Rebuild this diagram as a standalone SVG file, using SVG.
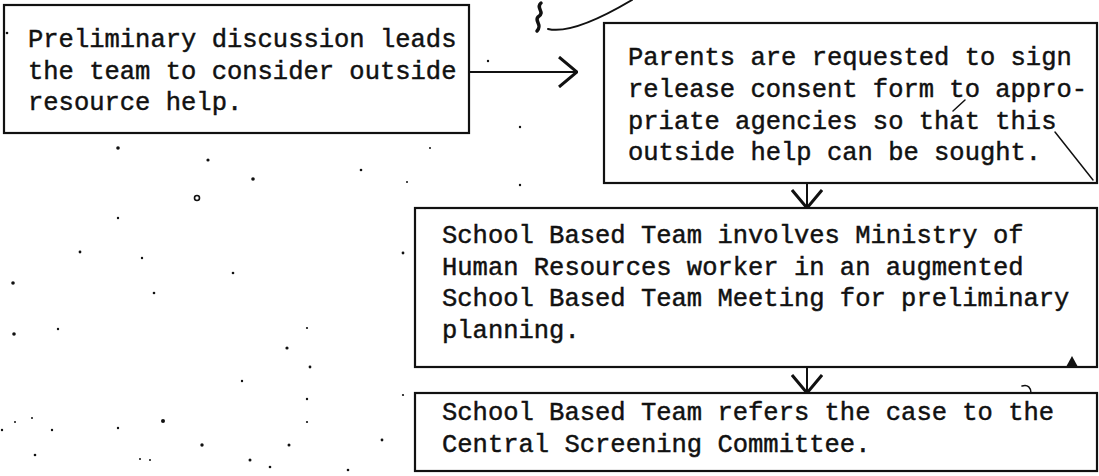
<svg xmlns="http://www.w3.org/2000/svg" width="1099" height="476" viewBox="0 0 1099 476">
  <style>
    .box { fill: #ffffff; stroke: #111111; stroke-width: 2.2; }
    .txt { font-family: "Liberation Mono", "Courier New", monospace; font-size: 25.5px; fill: #111111; stroke: #111111; stroke-width: 0.45; }
    .link { fill: none; stroke: #111111; stroke-width: 2; }
    .mark { fill: none; stroke: #111111; stroke-linecap: round; }
    .speck { fill: #111111; }
  </style>
  <defs>
    <marker id="chev" viewBox="0 0 20 32" refX="19" refY="16" markerWidth="20" markerHeight="32" markerUnits="userSpaceOnUse" orient="auto">
      <path d="M1,1 L19,16 L1,31" fill="none" stroke="#111111" stroke-width="3"/>
    </marker>
  </defs>
  <rect width="1099" height="476" fill="#ffffff"/>

  <!-- flow step 1 -->
  <g id="step-discussion">
    <rect class="box" x="4" y="5" width="465" height="128"/>
    <text class="txt" x="28" y="47">Preliminary discussion leads</text>
    <text class="txt" x="28" y="78.5">the team to consider outside</text>
    <text class="txt" x="28" y="110">resource help.</text>
  </g>

  <!-- flow step 2 -->
  <g id="step-consent">
    <rect class="box" x="604" y="23" width="493" height="160"/>
    <text class="txt" x="628" y="65">Parents are requested to sign</text>
    <text class="txt" x="628" y="97">release consent form to appro-</text>
    <text class="txt" x="628" y="128.5">priate agencies so that this</text>
    <text class="txt" x="628" y="160">outside help can be sought.</text>
  </g>

  <!-- flow step 3 -->
  <g id="step-augmented-meeting">
    <rect class="box" x="415" y="208" width="682" height="159"/>
    <text class="txt" x="442" y="243">School Based Team involves Ministry of</text>
    <text class="txt" x="442" y="274.5">Human Resources worker in an augmented</text>
    <text class="txt" x="442" y="306">School Based Team Meeting for preliminary</text>
    <text class="txt" x="442" y="337.5">planning.</text>
  </g>

  <!-- flow step 4 -->
  <g id="step-referral">
    <rect class="box" x="415" y="393" width="682" height="78"/>
    <text class="txt" x="442" y="420">School Based Team refers the case to the</text>
    <text class="txt" x="442" y="452">Central Screening Committee.</text>
  </g>

  <!-- connectors -->
  <g id="connectors">
    <line class="link" x1="469" y1="72" x2="577" y2="72" marker-end="url(#chev)"/>
    <line class="link" x1="807" y1="183" x2="807" y2="208" marker-end="url(#chev)"/>
    <line class="link" x1="807" y1="367" x2="807" y2="393" marker-end="url(#chev)"/>
  </g>

  <!-- pen marks -->
  <g id="pen-marks">
    <path class="mark" stroke-width="3.5" d="M541,3 C535,8 546,12 538,17 C534,21 543,25 537,31"/>
    <path class="mark" stroke-width="2" d="M548,29 C565,33 595,22 632,0"/>
    <path class="mark" stroke-width="1.5" d="M1055,132 L1093,180"/>
    <path class="mark" stroke-width="1.5" d="M953,111 L965,100"/>
    <path class="speck" d="M1066,367 L1072,356 L1078,367 Z"/>
    <path class="mark" stroke-width="1.5" d="M1022,386 C1028,384 1031,388 1031,393"/>
  </g>

  <!-- scattered specks -->
  <g id="specks">
    <circle class="speck" cx="7" cy="33" r="1.3"/>
    <circle class="speck" cx="118" cy="148" r="1.8"/>
    <circle class="speck" cx="208" cy="160" r="1.6"/>
    <circle class="speck" cx="253" cy="179" r="1.8"/>
    <circle cx="197" cy="198" r="2.5" fill="none" stroke="#111111" stroke-width="1.6"/>
    <circle class="speck" cx="361" cy="170" r="1.3"/>
    <circle class="speck" cx="118" cy="218" r="1.2"/>
    <circle class="speck" cx="80" cy="252" r="1.4"/>
    <circle class="speck" cx="142" cy="258" r="1.2"/>
    <circle class="speck" cx="233" cy="273" r="1.3"/>
    <circle class="speck" cx="13" cy="283" r="1.8"/>
    <circle class="speck" cx="154" cy="293" r="1.3"/>
    <circle class="speck" cx="403" cy="253" r="1.4"/>
    <circle class="speck" cx="14" cy="334" r="1.8"/>
    <circle class="speck" cx="58" cy="329" r="1.2"/>
    <circle class="speck" cx="307" cy="328" r="1.1"/>
    <circle class="speck" cx="287" cy="348" r="1.6"/>
    <circle class="speck" cx="310" cy="367" r="1.4"/>
    <circle class="speck" cx="242" cy="381" r="1.2"/>
    <circle class="speck" cx="307" cy="399" r="1.2"/>
    <circle class="speck" cx="307" cy="422" r="1.1"/>
    <circle class="speck" cx="163" cy="421" r="2"/>
    <circle class="speck" cx="118" cy="428" r="1.2"/>
    <circle class="speck" cx="52" cy="430" r="1.2"/>
    <circle class="speck" cx="202" cy="445" r="1.7"/>
    <circle class="speck" cx="289" cy="445" r="1.5"/>
    <circle class="speck" cx="382" cy="440" r="1.4"/>
    <circle class="speck" cx="35" cy="455" r="1.3"/>
    <circle class="speck" cx="140" cy="459" r="1"/>
    <circle class="speck" cx="150" cy="460" r="1"/>
    <circle class="speck" cx="250" cy="460" r="1.5"/>
    <circle class="speck" cx="270" cy="467" r="1.3"/>
    <circle class="speck" cx="348" cy="470" r="1.3"/>
    <circle class="speck" cx="520" cy="127" r="1.2"/>
    <circle class="speck" cx="520" cy="185" r="1.2"/>
    <circle class="speck" cx="430" cy="148" r="1"/>
    <circle class="speck" cx="407" cy="182" r="1"/>
    <circle class="speck" cx="403" cy="395" r="1.1"/>
    <circle class="speck" cx="2" cy="430" r="1.2"/>
    <circle class="speck" cx="15" cy="422" r="1"/>
    <circle class="speck" cx="32" cy="418" r="1"/>
    <circle class="speck" cx="488" cy="61" r="1.2"/>
  </g>
</svg>
